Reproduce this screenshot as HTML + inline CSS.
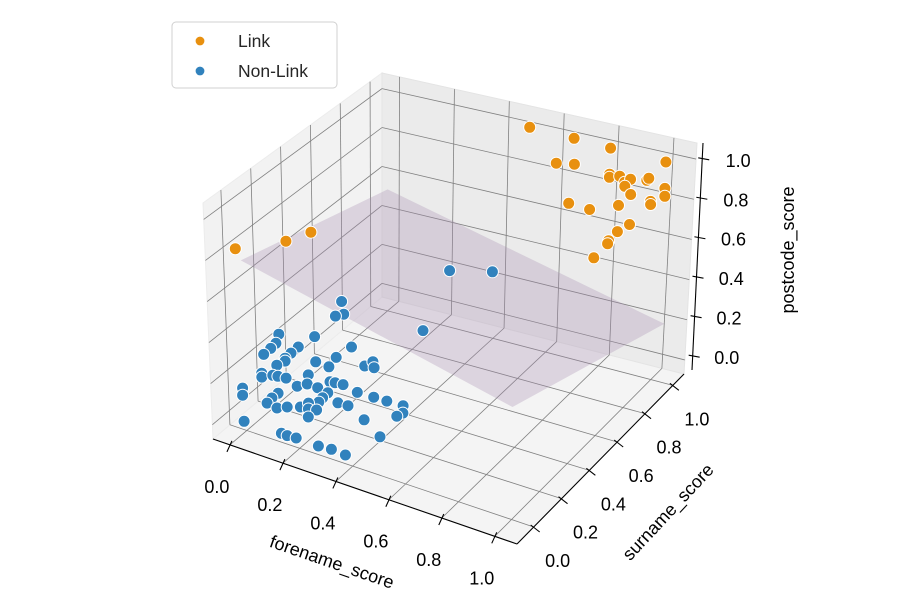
<!DOCTYPE html>
<html><head><meta charset="utf-8"><style>
html,body{margin:0;padding:0;background:#fff}
svg{display:block;font-family:"Liberation Sans","DejaVu Sans",sans-serif}
</style></head><body>
<svg id="chart" width="900" height="600" viewBox="0 0 900 600" xmlns="http://www.w3.org/2000/svg">
<rect width="900" height="600" fill="#fff"/>
<g id="panes"></g>
<g id="grid"></g>
<g id="axes"></g>
<g id="plane"></g>
<g id="pts"></g>
<text x="332" y="568" font-size="18" text-anchor="middle" transform="rotate(19 332 562)">forename_score</text>
<text x="668" y="518" font-size="18" text-anchor="middle" transform="rotate(-47 668 512)">surname_score</text>
<text x="788" y="256" font-size="18" text-anchor="middle" transform="rotate(-90 788 250)">postcode_score</text>
<g>
<rect x="172" y="22" width="165" height="66" rx="4" fill="#fff" fill-opacity="0.8" stroke="#d0d0d0" stroke-width="1"/>
<g>
<circle cx="200" cy="41" r="4.4" fill="#e8900f"/>
<text x="238" y="47" font-size="17.5" fill="#262626">Link</text></g>
<g>
<circle cx="200" cy="71" r="4.4" fill="#3182bd"/>
<text x="238" y="77" font-size="17.5" fill="#262626">Non-Link</text></g>
</g>
</svg>
<script>
const ticks=[0,0.2,0.4,0.6,0.8,1.0];
const tickLabels=["0.0","0.2","0.4","0.6","0.8","1.0"];
const linkX=[0.545,0.707,0.840,0.645,0.711,1.042,0.840,0.840,0.877,0.896,0.917,0.897,0.976,0.983,1.043,1.044,0.920,0.993,0.994,0.695,0.772,0.877,0.920,0.877,0.846,0.843,0.794,-0.047,0.141,0.234];
const linkY=[0.95,0.95,0.95,0.95,0.95,0.95,0.95,0.95,0.95,0.95,0.95,0.95,0.95,0.95,0.95,0.95,0.95,0.95,0.95,0.95,0.95,0.95,0.95,0.95,0.95,0.95,0.95,0.05,0.05,0.05];
const linkZ=[1.07,1.066,1.059,0.922,0.938,1.053,0.929,0.914,0.931,0.907,0.928,0.887,0.942,0.954,0.923,0.884,0.854,0.843,0.828,0.738,0.732,0.786,0.705,0.656,0.601,0.585,0.499,0.772,0.880,0.958];
const nonX=[0.74,0.896,0.642,0.342,0.349,0.318,0.105,0.239,0.093,0.073,0.046,0.177,0.149,0.126,0.126,0.376,0.241,0.318,0.290,0.094,0.036,0.036,0.078,0.097,0.128,0.212,0.424,0.455,0.459,-0.038,-0.039,0.169,0.207,0.246,0.293,0.312,0.342,0.284,0.264,0.249,0.395,0.456,0.505,0.096,0.072,0.053,0.090,0.129,0.179,0.210,0.209,0.240,0.208,0.321,0.359,0.566,0.565,0.542,0.419,-0.037,0.104,0.126,0.160,0.478,0.244,0.293,0.346];
const nonZ=[0.96,1.01,0.641,0.665,0.607,0.586,0.414,0.456,0.365,0.332,0.292,0.381,0.340,0.306,0.292,0.460,0.335,0.387,0.331,0.259,0.196,0.177,0.203,0.206,0.210,0.260,0.388,0.421,0.394,0.092,0.057,0.188,0.214,0.212,0.260,0.263,0.266,0.203,0.171,0.144,0.250,0.252,0.253,0.123,0.090,0.057,0.049,0.070,0.091,0.123,0.094,0.102,0.055,0.170,0.172,0.255,0.220,0.196,0.129,-0.07,-0.068,-0.07,-0.067,0.072,-0.07,-0.065,-0.07];
const nonY=nonX.map(()=>0.05);
const planeX=[0,1,1.04,0];
const planeY=[0,0,1,1];
const planeZ=[0.76,0.45,0.22,0.55];
const xr=[-0.064,1.084], yr=[-0.12,1.08], zr=[-0.07,1.08];
const C={p000:[213,439],p100:[517,544],p110:[684,374],p010:[382,297],p001:[203,203],p101:[519,292],p111:[697,143],p011:[382,73]};
function projB(u,v,w){
  const r=[0,0];
  for(let k=0;k<2;k++){
    const b=(1-u)*(1-v)*C.p000[k]+u*(1-v)*C.p100[k]+u*v*C.p110[k]+(1-u)*v*C.p010[k];
    const t=(1-u)*(1-v)*C.p001[k]+u*(1-v)*C.p101[k]+u*v*C.p111[k]+(1-u)*v*C.p011[k];
    r[k]=b*(1-w)+t*w;
  }
  return r;
}
const U=x=>(x-xr[0])/(xr[1]-xr[0]), V=y=>(y-yr[0])/(yr[1]-yr[0]), W=z=>(z-zr[0])/(zr[1]-zr[0]);
function proj(x,y,z){return projB(U(x),V(y),W(z));}
const NS="http://www.w3.org/2000/svg";
function mk(tag,attrs,parent){const e=document.createElementNS(NS,tag);for(const k in attrs)e.setAttribute(k,attrs[k]);parent.appendChild(e);return e;}
const pts=a=>a.map(p=>p[0].toFixed(1)+","+p[1].toFixed(1)).join(" ");
const panes=document.getElementById('panes');
let e;
e=mk('polygon',{points:pts([projB(0,0,0),projB(1,0,0),projB(1,1,0),projB(0,1,0)]),fill:"#f4f4f4",stroke:"#ececec"},panes);

e=mk('polygon',{points:pts([projB(0,0,0),projB(0,1,0),projB(0,1,1),projB(0,0,1)]),fill:"#f2f2f2",stroke:"#ececec"},panes);

e=mk('polygon',{points:pts([projB(0,1,0),projB(1,1,0),projB(1,1,1),projB(0,1,1)]),fill:"#ebebeb",stroke:"#e4e4e4"},panes);

const grid=document.getElementById('grid');
function gl(a,b,name){const l=mk('line',{x1:a[0],y1:a[1],x2:b[0],y2:b[1],stroke:"#808080","stroke-width":0.8},grid);}
ticks.forEach(t=>{
  gl(projB(U(t),0,0),projB(U(t),1,0),'x-grid-floor');
  gl(projB(U(t),1,0),projB(U(t),1,1),'x-grid-back');
  gl(projB(0,V(t),0),projB(1,V(t),0),'y-grid-floor');
  gl(projB(0,V(t),0),projB(0,V(t),1),'y-grid-left');
  gl(projB(0,0,W(t)),projB(0,1,W(t)),'z-grid-left');
  gl(projB(0,1,W(t)),projB(1,1,W(t)),'z-grid-back');
});
const axes=document.getElementById('axes');
function al(a,b,name){const l=mk('line',{x1:a[0],y1:a[1],x2:b[0],y2:b[1],stroke:"#000","stroke-width":1.1},axes);}
function tx(p,s,name,anchor){const t=mk('text',{x:p[0],y:p[1],"font-size":18,"text-anchor":anchor||"middle",fill:"#000"},axes);t.textContent=s;}
al(projB(0,0,0),projB(1,0,0),'x-axis-line');
al(projB(1,0,0),projB(1,1,0),'y-axis-line');
const zb=projB(1,1,0), zt=projB(1,1,1);
al([zb[0]+8,zb[1]-4],[zt[0]+6,zt[1]],'z-axis-line');
ticks.forEach((t,i)=>{
  let p=projB(U(t),0,0);
  al([p[0]+2,p[1]-4],[p[0]-3,p[1]+7],'x-tick');
  tx([p[0]-13,p[1]+48],tickLabels[i],'x-tick-label');
  p=projB(1,V(t),0);
  al([p[0]-3,p[1]-2],[p[0]+6,p[1]+5],'y-tick');
  tx([p[0]+24,p[1]+40],tickLabels[i],'y-tick-label');
  const w=W(t);
  p=[zb[0]+8+(zt[0]+6-zb[0]-8)*w, zb[1]-4+(zt[1]-zb[1]+4)*w];
  al([p[0]-4,p[1]-1],[p[0]+7,p[1]+1],'z-tick');
  tx([p[0]+36-2*(1-w),p[1]+8],tickLabels[i],'z-tick-label');
});
const pg=document.getElementById('plane');
const pc=planeX.map((x,i)=>proj(x,planeY[i],planeZ[i]));
e=mk('polygon',{points:pts(pc),fill:"#a48bb0","fill-opacity":0.3},pg);

const pG=document.getElementById('pts');
function drawSeries(X,Y,Z,color,name){
  X.forEach((x,i)=>{const p=proj(x,Y[i],Z[i]);
    const c=mk('circle',{cx:p[0].toFixed(1),cy:p[1].toFixed(1),r:6,fill:color,stroke:"#fff","stroke-width":1},pG);
    
    
  });
}
drawSeries(nonX,nonY,nonZ,"#3182bd",'non-link-point');
drawSeries(linkX,linkY,linkZ,"#e8900f",'link-point');
</script>
</body></html>
